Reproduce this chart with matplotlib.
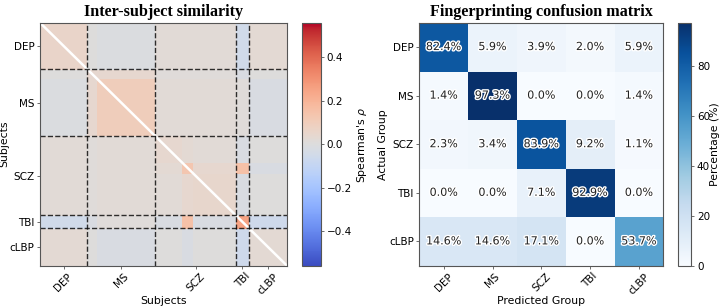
import numpy as np
import matplotlib
matplotlib.use("Agg")
import matplotlib.pyplot as plt
import matplotlib.patheffects as pe

groups = ["DEP", "MS", "SCZ", "TBI", "cLBP"]
group_sizes = [51, 73, 87, 14, 41]

# sub-segments of the subject list, in order
seg_sizes = [51, 10, 63, 29, 12, 46, 14, 41]
# mean Spearman rho between segments (DEP, MS_a, MS_b, SCZ_a, SCZ_b, SCZ_c, TBI, cLBP)
seg_rho = [
    [0.06, 0.00, -0.01, 0.02, 0.02, 0.02, -0.05, 0.03],
    [0.00, 0.04, 0.04, 0.01, 0.01, 0.01, -0.02, 0.00],
    [-0.01, 0.04, 0.10, 0.02, 0.02, 0.02, 0.01, -0.02],
    [0.02, 0.01, 0.02, 0.04, 0.03, 0.02, -0.02, 0.00],
    [0.02, 0.01, 0.02, 0.03, 0.13, 0.04, 0.15, -0.02],
    [0.02, 0.01, 0.02, 0.02, 0.04, 0.05, -0.02, 0.00],
    [-0.05, -0.02, 0.01, -0.02, 0.15, -0.02, 0.25, -0.06],
    [0.03, 0.00, -0.02, 0.00, -0.02, 0.00, -0.06, 0.03],
]

# confusion matrix, % of actual group
conf_pct = [
    [82.4, 5.9, 3.9, 2.0, 5.9],
    [1.4, 97.3, 0.0, 0.0, 1.4],
    [2.3, 3.4, 83.9, 9.2, 1.1],
    [0.0, 0.0, 7.1, 92.9, 0.0],
    [14.6, 14.6, 17.1, 0.0, 53.7],
]

sim = np.repeat(np.repeat(np.array(seg_rho), seg_sizes, axis=0), seg_sizes, axis=1)
np.fill_diagonal(sim, np.nan)
n = sim.shape[0]
bounds = np.cumsum(group_sizes)
centers = bounds - np.array(group_sizes) / 2

fig = plt.figure(figsize=(7.2, 3.06), dpi=100)
spine_c = "#555555"
tfs = 7.5
lfs = 7.8
title_kw = dict(fontfamily="Liberation Serif", fontweight="bold", fontsize=11.6, pad=5)

# ---- left: similarity
ax1 = fig.add_axes([0.0556, 0.1317, 0.343, 0.794])
cmap = plt.get_cmap("coolwarm").copy()
cmap.set_bad("white")
im1 = ax1.imshow(sim, cmap=cmap, vmin=-0.56, vmax=0.56, extent=(0, n, n, 0),
                 interpolation="nearest", aspect="auto")
ax1.plot([0, n], [0, n], color="white", lw=1.8)   # masked diagonal
for b in bounds[:-1]:
    ax1.axhline(b, color="black", ls="--", lw=1.0, alpha=0.8)
    ax1.axvline(b, color="black", ls="--", lw=1.0, alpha=0.8)
ax1.set_xlim(0, n)
ax1.set_ylim(n, 0)
ax1.set_xticks(centers)
ax1.set_xticklabels(groups, rotation=45, fontsize=tfs)
ax1.set_yticks(centers)
ax1.set_yticklabels(groups, fontsize=tfs)
ax1.set_xlabel("Subjects", fontsize=lfs, labelpad=0)
ax1.set_ylabel("Subjects", fontsize=lfs, labelpad=0)
ax1.set_title("Inter-subject similarity", **title_kw)
for s in ax1.spines.values():
    s.set_color(spine_c)
ax1.tick_params(length=2.5, width=0.6, color=spine_c, pad=1.5)

cax1 = fig.add_axes([0.4194, 0.1317, 0.0264, 0.794])
cb1 = fig.colorbar(im1, cax=cax1, ticks=[-0.4, -0.2, 0.0, 0.2, 0.4])
cb1.set_label(r"Spearman's $\rho$", fontsize=lfs, labelpad=2)
cb1.ax.tick_params(labelsize=tfs, length=2.5, width=0.6, color=spine_c, pad=1.5)
cb1.outline.set_edgecolor(spine_c)

# ---- right: confusion matrix
ax2 = fig.add_axes([0.5824, 0.1317, 0.3389, 0.794])
conf = np.array(conf_pct)
im2 = ax2.imshow(conf, cmap="Blues", vmin=0, vmax=conf.max(), aspect="auto")
for i in range(conf.shape[0]):
    for j in range(conf.shape[1]):
        ax2.text(j, i, f"{conf[i, j]:.1f}%", ha="center", va="center",
                 fontsize=8, color="#222222",
                 path_effects=[pe.withStroke(linewidth=2, foreground="white")])
ax2.set_xticks(range(len(groups)))
ax2.set_xticklabels(groups, rotation=45, fontsize=tfs)
ax2.set_yticks(range(len(groups)))
ax2.set_yticklabels(groups, fontsize=tfs)
ax2.set_xlabel("Predicted Group", fontsize=lfs, labelpad=0)
ax2.set_ylabel("Actual Group", fontsize=lfs, labelpad=1)
ax2.set_title("Fingerprinting confusion matrix", **title_kw)
for s in ax2.spines.values():
    s.set_color(spine_c)
ax2.tick_params(length=2.5, width=0.6, color=spine_c, pad=1.5)

cax2 = fig.add_axes([0.9417, 0.1317, 0.0185, 0.794])
cb2 = fig.colorbar(im2, cax=cax2, ticks=[0, 20, 40, 60, 80])
cb2.set_label("Percentage (%)", fontsize=lfs, labelpad=0)
cb2.ax.tick_params(labelsize=tfs, length=2.5, width=0.6, color=spine_c, pad=1.5)
cb2.outline.set_edgecolor(spine_c)

fig.savefig("out.png", dpi=100)
